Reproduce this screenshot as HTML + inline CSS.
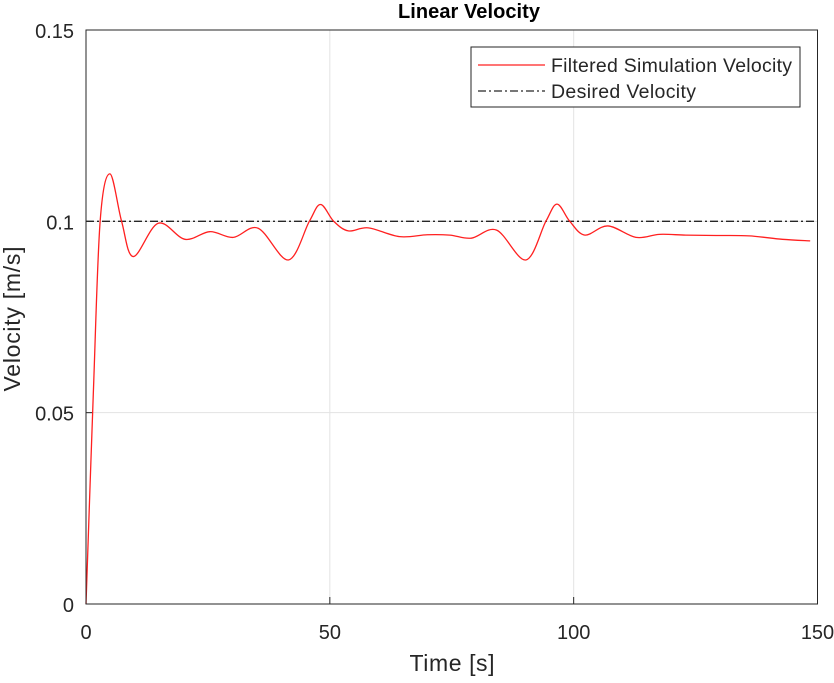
<!DOCTYPE html>
<html><head><meta charset="utf-8"><style>
body{margin:0;background:#fff}
svg{font-family:"Liberation Sans",Arial,sans-serif}
</style></head><body>
<svg id="chart" width="834" height="678">
<text x="469" y="18" text-anchor="middle" font-weight="bold" font-size="20" textLength="142" fill="#000">Linear Velocity</text>
<g id="grid"></g>
<g id="ticks"></g>
<g id="series"></g>
<rect x="86" y="30" width="731.5" height="574" fill="none" stroke="#262626" stroke-width="1"/>
<text x="452" y="671" text-anchor="middle" font-size="23" textLength="85" fill="#262626">Time [s]</text>
<text transform="translate(20,319) rotate(-90)" text-anchor="middle" font-size="23" textLength="145" fill="#262626">Velocity [m/s]</text>
<g>
<rect x="471" y="47" width="329" height="60" fill="#fff" stroke="#262626" stroke-width="1"/>
<line x1="478" y1="65" x2="545" y2="65" stroke="#ff2020" stroke-width="1.3"/>
<text x="551" y="72" font-size="19.5" textLength="241" fill="#262626">Filtered Simulation Velocity</text>
<line x1="478" y1="91" x2="545" y2="91" stroke="#262626" stroke-width="1.3" stroke-dasharray="8,3,2,3"/>
<text x="551" y="98" font-size="19.5" textLength="145" fill="#262626">Desired Velocity</text>
</g>
</svg>
<script>
const times=[0,1.5,2.9,4.9,7.3,9.7,14.8,20.3,25.4,30.2,35.3,41.5,45.8,48.1,50.8,53.8,57.9,64.3,70,74.6,79,84.2,90.2,94.3,96.6,99.2,102.3,107,112.8,117.6,123,129.2,136,142.8,148.5];
const velocity=[0,0.055,0.1,0.1124,0.1,0.0908,0.0995,0.0953,0.0973,0.0958,0.0982,0.0899,0.1,0.1044,0.1,0.0975,0.0983,0.096,0.0965,0.0964,0.0956,0.0977,0.0899,0.1,0.1045,0.1,0.0964,0.0988,0.0958,0.0966,0.0964,0.0963,0.0962,0.0953,0.0949];
const desired=[0.1];
const xTicks=[0,50,100,150];
const yTicks=[0,0.05,0.1,0.15];
const yTickLabels=["0","0.05","0.1","0.15"];
const X0=86,X1=817.5,Y0=604,Y1=30;
const xs=t=>X0+(t/150)*(X1-X0);
const ys=v=>Y0-(v/0.15)*(Y0-Y1);
const NS="http://www.w3.org/2000/svg";
const grid=document.getElementById('grid'),ticks=document.getElementById('ticks'),series=document.getElementById('series');
function mk(tag,attrs,parent){const e=document.createElementNS(NS,tag);for(const k in attrs)e.setAttribute(k,attrs[k]);parent.appendChild(e);return e;}
xTicks.forEach((t,i)=>{
 const g=mk('line',{x1:xs(t),x2:xs(t),y1:Y1,y2:Y0,stroke:'#e3e3e3','stroke-width':1},grid);
 
 
 const tk=mk('line',{x1:xs(t),x2:xs(t),y1:Y0,y2:Y0-7,stroke:'#262626'},ticks);
 
 
 const tx=mk('text',{x:xs(t),y:Y0+35,'text-anchor':'middle','font-size':20,fill:'#262626'},ticks);
 tx.textContent=String(t);
 
 
});
yTicks.forEach((v,i)=>{
 const g=mk('line',{x1:X0,x2:X1,y1:ys(v),y2:ys(v),stroke:'#e3e3e3','stroke-width':1},grid);
 
 
 const tk=mk('line',{x1:X0,x2:X0+7,y1:ys(v),y2:ys(v),stroke:'#262626'},ticks);
 
 
 const tx=mk('text',{x:X0-12,y:ys(v)+8,'text-anchor':'end','font-size':20,fill:'#262626'},ticks);
 tx.textContent=yTickLabels[i];
 
 
});
const dl=mk('line',{x1:X0,x2:X1,y1:ys(desired[0]),y2:ys(desired[0]),stroke:'#262626','stroke-width':1.3,'stroke-dasharray':'8,3,2,3'},series);


const P=times.map((t,i)=>[xs(t),ys(velocity[i])]);
let d='M'+P[0][0]+','+P[0][1];
for(let i=0;i<P.length-1;i++){
 const p0=P[Math.max(0,i-1)],p1=P[i],p2=P[i+1],p3=P[Math.min(P.length-1,i+2)];
 const c1=[p1[0]+(p2[0]-p0[0])/6,p1[1]+(p2[1]-p0[1])/6];
 const c2=[p2[0]-(p3[0]-p1[0])/6,p2[1]-(p3[1]-p1[1])/6];
 d+=' C'+c1[0]+','+c1[1]+' '+c2[0]+','+c2[1]+' '+p2[0]+','+p2[1];
}
const fl=mk('path',{d:d,fill:'none',stroke:'#ff2020','stroke-width':1.3},series);


</script>
</body></html>
